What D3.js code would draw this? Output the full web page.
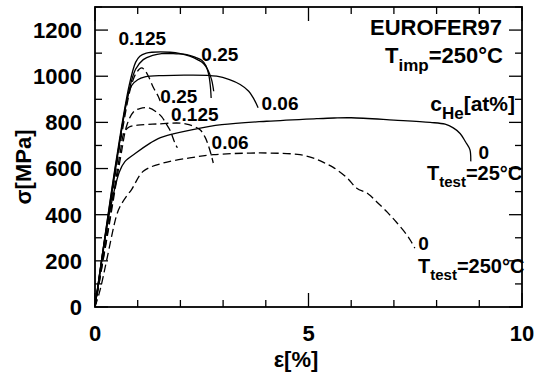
<!DOCTYPE html>
<html>
<head>
<meta charset="utf-8">
<script src="https://cdn.jsdelivr.net/npm/d3@7"></script>
<style>
body { margin: 0; background: #fff; }
text { font-family: "Liberation Sans", Arial, sans-serif; font-weight: bold; fill: #000; }
</style>
</head>
<body>
<div id="chart"></div>
<script>
// strain [%], stress [MPa]
var xTicks = [0, 5, 10];
var yTicks = [0, 200, 400, 600, 800, 1000, 1200];

// T_test = 25 C (solid)
var solid0 = [[0,0],[0.3,370],[0.57,585],[0.7,630],[0.94,665],[1.3,711],[1.48,730],[1.83,750],[2.26,768],[2.97,790],[4.02,805],[5.19,816],[5.6,819],[6.0,820],[7.0,810],[7.85,800],[8.2,792],[8.39,776],[8.55,752],[8.68,715],[8.78,682],[8.8,631]];
var solid006 = [[0,0],[0.5,620],[0.75,900],[0.86,960],[1.0,985],[1.17,997],[1.6,1003],[2.2,1005],[2.85,1000],[3.15,985],[3.4,964],[3.6,935],[3.71,905],[3.82,863]];
var solid0125 = [[0,0],[0.5,640],[0.8,960],[0.95,1060],[1.05,1087],[1.2,1100],[1.33,1104],[1.76,1104],[2.0,1098],[2.22,1087],[2.42,1070],[2.54,1055],[2.65,1025],[2.73,985],[2.78,935]];
var solid025 = [[0,0],[0.5,630],[0.8,940],[0.95,1030],[1.13,1072],[1.35,1090],[1.56,1098],[1.9,1097],[2.15,1094],[2.35,1082],[2.5,1069],[2.6,1045],[2.66,1010],[2.7,960],[2.72,906]];

// T_test = 250 C (dashed)
var dash0 = [[0,0],[0.12,74],[0.27,200],[0.51,400],[0.6,440],[0.74,480],[0.86,510],[1.13,588],[1.6,624],[2.22,646],[2.77,660],[3.63,667],[4.1,667],[4.8,660],[5.19,640],[5.4,622],[5.58,605],[5.9,560],[6.13,515],[6.4,490],[6.6,455],[6.85,410],[7.07,365],[7.3,313],[7.4,285],[7.49,255]];
var dash006 = [[0,0],[0.3,330],[0.6,680],[0.68,755],[0.8,780],[1.0,788],[1.44,793],[1.99,797],[2.2,790],[2.46,768],[2.58,735],[2.65,703],[2.72,660],[2.77,624]];
var dash0125 = [[0,0],[0.3,320],[0.6,650],[0.75,790],[0.9,845],[1.05,860],[1.25,863],[1.44,845],[1.56,825],[1.68,790],[1.76,765],[1.87,711],[1.93,690]];
var dash025 = [[0,0],[0.3,360],[0.6,720],[0.85,960],[0.97,1015],[1.09,1036],[1.17,1025],[1.25,1000],[1.37,950],[1.48,913],[1.55,880]];

var curves = [
    { pts: solid0, dashed: false },
    { pts: solid006, dashed: false },
    { pts: solid0125, dashed: false },
    { pts: solid025, dashed: false },
    { pts: dash0, dashed: true },
    { pts: dash006, dashed: true },
    { pts: dash0125, dashed: true },
    { pts: dash025, dashed: true }
];

// curve labels: text and the point (in data units) where the text starts
var curveLabels = [
    ['0.125', 0.55, 1135],
    ['0.25', 2.49, 1068],
    ['0.06', 3.9, 855],
    ['0.25', 1.53, 885],
    ['0.125', 1.78, 805],
    ['0.06', 2.73, 685],
    ['0', 8.98, 642],
    ['0', 7.57, 248]
];

var W = 543, H = 376;
var margin = { left: 95, right: 21, top: 7, bottom: 69 };

var svg = d3.select('#chart')
    .append('svg')
    .attr('width', W)
    .attr('height', H);

var x = d3.scaleLinear().domain([0, 10]).range([margin.left, W - margin.right]);
var y = d3.scaleLinear().domain([0, 1300]).range([H - margin.bottom, margin.top]);

// ticks, all pointing inward
var minorX = d3.range(0, 11, 1);
var minorY = d3.range(0, 1301, 100);

var tickG = svg.append('g').attr('stroke', '#000').attr('stroke-width', 1.3);

minorX.forEach(v => {
    var len = v % 5 === 0 ? 14 : 7;
    tickG.append('line').attr('x1', x(v)).attr('x2', x(v)).attr('y1', y(0)).attr('y2', y(0) - len);
    tickG.append('line').attr('x1', x(v)).attr('x2', x(v)).attr('y1', y(1300)).attr('y2', y(1300) + len);
});

minorY.forEach(v => {
    var len = v % 200 === 0 ? 13 : 7;
    tickG.append('line').attr('y1', y(v)).attr('y2', y(v)).attr('x1', x(0)).attr('x2', x(0) + len);
    tickG.append('line').attr('y1', y(v)).attr('y2', y(v)).attr('x1', x(10)).attr('x2', x(10) - len);
});

// curves
var line = d3.line()
    .x(d => x(d[0]))
    .y(d => y(d[1]))
    .curve(d3.curveCatmullRom.alpha(0.5));

svg.append('g')
    .selectAll('path')
    .data(curves)
    .enter()
    .append('path')
    .attr('d', d => line(d.pts))
    .attr('fill', 'none')
    .attr('stroke', '#000')
    .attr('stroke-width', 1.3)
    .attr('stroke-dasharray', d => d.dashed ? '8,4' : null);

// frame
svg.append('rect')
    .attr('x', x(0))
    .attr('y', y(1300))
    .attr('width', x(10) - x(0))
    .attr('height', y(0) - y(1300))
    .attr('fill', 'none')
    .attr('stroke', '#000')
    .attr('stroke-width', 1.8);

// tick labels
svg.append('g')
    .selectAll('text')
    .data(xTicks)
    .enter()
    .append('text')
    .attr('x', d => x(d))
    .attr('y', 341)
    .attr('text-anchor', 'middle')
    .style('font-size', '22px')
    .text(d => d);

svg.append('g')
    .selectAll('text')
    .data(yTicks)
    .enter()
    .append('text')
    .attr('x', 82)
    .attr('y', d => y(d))
    .attr('dy', '0.36em')
    .attr('text-anchor', 'end')
    .style('font-size', '22px')
    .text(d => d);

// axis titles
svg.append('text')
    .attr('x', 296)
    .attr('y', 367)
    .attr('text-anchor', 'middle')
    .style('font-size', '22px')
    .text('ε[%]');

svg.append('text')
    .attr('transform', 'translate(31,167) rotate(-90)')
    .attr('text-anchor', 'middle')
    .style('font-size', '22px')
    .text('σ[MPa]');

// curve labels
svg.append('g')
    .selectAll('text')
    .data(curveLabels)
    .enter()
    .append('text')
    .attr('x', d => x(d[1]))
    .attr('y', d => y(d[2]))
    .style('font-size', '19px')
    .text(d => d[0]);

// annotations
svg.append('text')
    .attr('x', 502)
    .attr('y', 35)
    .attr('text-anchor', 'end')
    .style('font-size', '22px')
    .text('EUROFER97');

function subText(px, py, anchor, main, sub, rest, big, small) {
    var t = svg.append('text')
        .attr('x', px)
        .attr('y', py)
        .attr('text-anchor', anchor)
        .style('font-size', big + 'px');
    t.append('tspan').text(main);
    t.append('tspan').attr('dy', small * 0.45).style('font-size', small + 'px').text(sub);
    t.append('tspan').attr('dy', -small * 0.45).text(rest);
}

subText(503, 63, 'end', 'T', 'imp', '=250°C', 22, 17);
subText(515, 111, 'end', 'c', 'He', '[at%]', 21, 17);
subText(427, 180, 'start', 'T', 'test', '=25°C', 20, 15);
subText(418, 273, 'start', 'T', 'test', '=250°C', 20, 15);
</script>
</body>
</html>
